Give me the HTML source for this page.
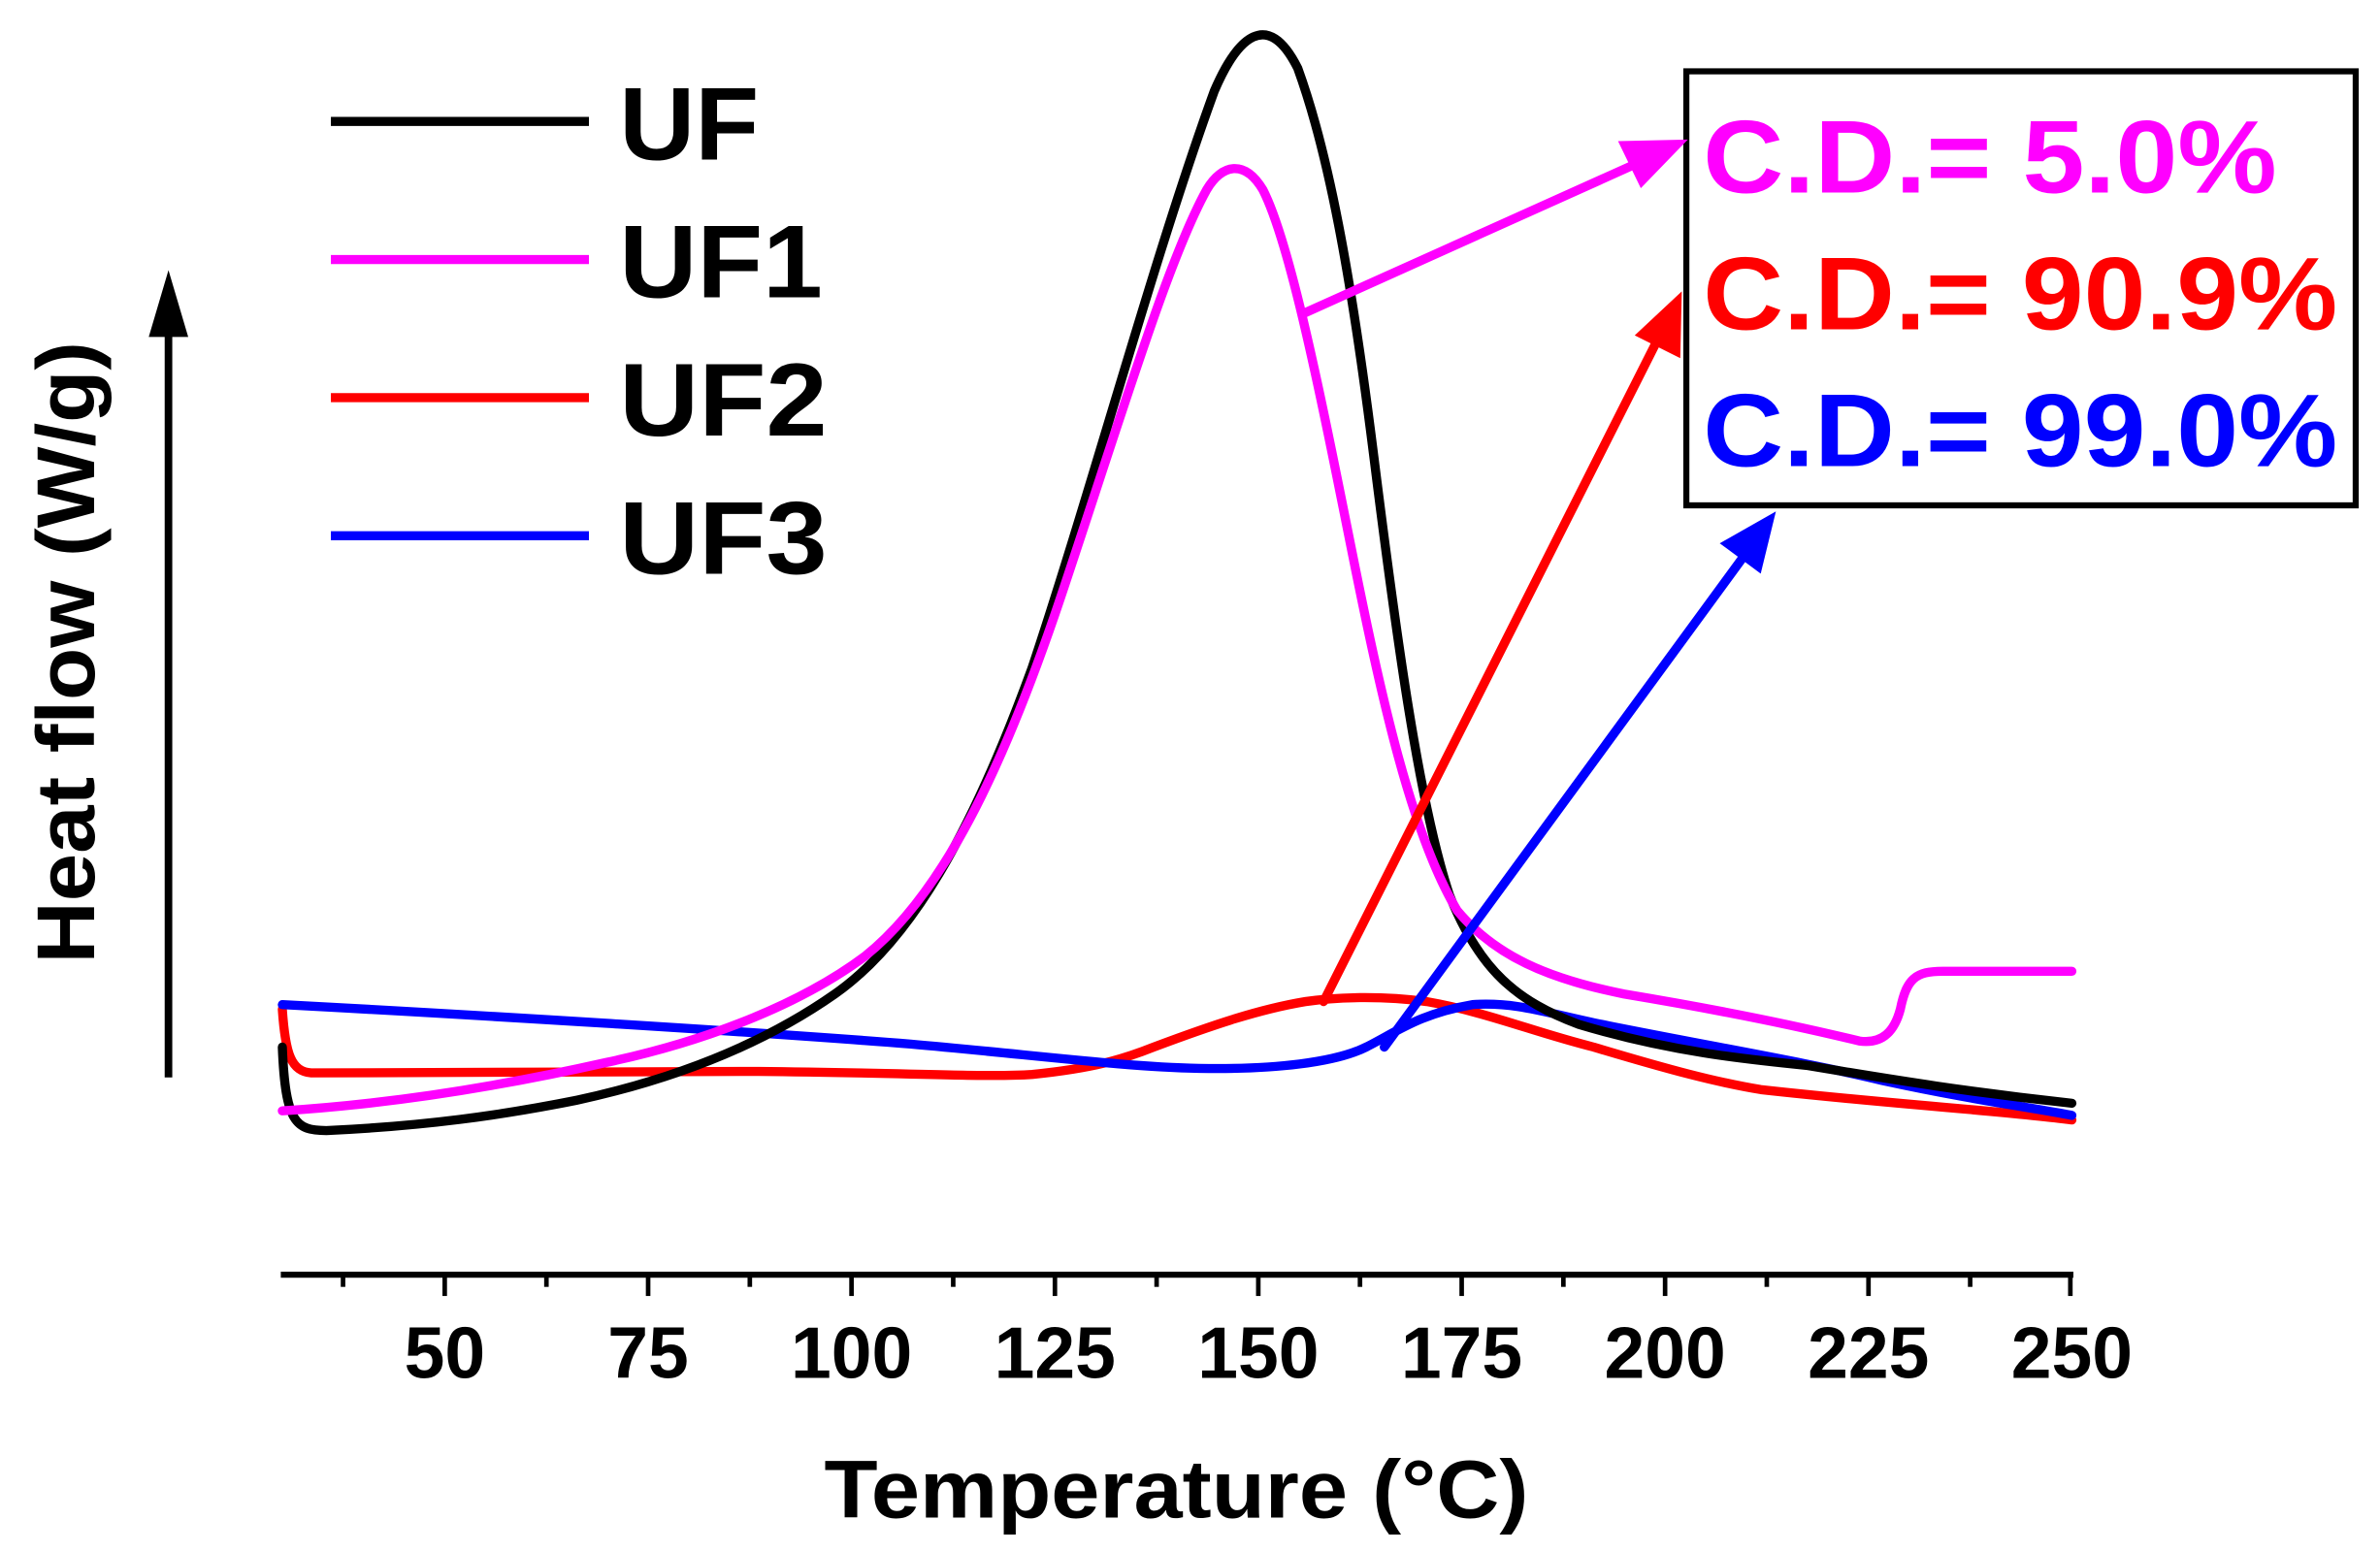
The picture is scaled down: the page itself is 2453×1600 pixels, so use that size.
<!DOCTYPE html>
<html><head><meta charset="utf-8"><style>
html,body{margin:0;padding:0;background:#fff;}
svg{display:block;}
text{font-family:"Liberation Sans",Arial,sans-serif;font-weight:bold;}
</style></head><body>
<svg width="2453" height="1600" viewBox="0 0 1568 1022.7" preserveAspectRatio="none" xmlns="http://www.w3.org/2000/svg">
<line x1="185" y1="840" x2="1366" y2="840" stroke="#000" stroke-width="4"/>
<g stroke="#000" stroke-width="3">
<line x1="293" y1="840" x2="293" y2="854"/><line x1="427" y1="840" x2="427" y2="854"/><line x1="561" y1="840" x2="561" y2="854"/><line x1="695" y1="840" x2="695" y2="854"/><line x1="829" y1="840" x2="829" y2="854"/><line x1="963" y1="840" x2="963" y2="854"/><line x1="1097" y1="840" x2="1097" y2="854"/><line x1="1231" y1="840" x2="1231" y2="854"/><line x1="1364" y1="840" x2="1364" y2="854"/>
<line x1="226" y1="840" x2="226" y2="848"/><line x1="360" y1="840" x2="360" y2="848"/><line x1="494" y1="840" x2="494" y2="848"/><line x1="628" y1="840" x2="628" y2="848"/><line x1="762" y1="840" x2="762" y2="848"/><line x1="896" y1="840" x2="896" y2="848"/><line x1="1030" y1="840" x2="1030" y2="848"/><line x1="1164" y1="840" x2="1164" y2="848"/><line x1="1298" y1="840" x2="1298" y2="848"/>
</g>
<g font-size="48" fill="#000" text-anchor="middle">
<text x="293" y="908">50</text><text x="427" y="908">75</text><text x="561" y="908">100</text><text x="695" y="908">125</text><text x="829" y="908">150</text><text x="963" y="908">175</text><text x="1097" y="908">200</text><text x="1231" y="908">225</text><text x="1365" y="908">250</text>
</g>
<text x="543" y="1000" font-size="54" textLength="464" lengthAdjust="spacingAndGlyphs">Temperature (°C)</text>
<line x1="111" y1="710" x2="111" y2="215" stroke="#000" stroke-width="5"/>
<path d="M111,178 L98,222 L124,222 Z" fill="#000"/>
<text transform="translate(62,635) rotate(-90)" font-size="54" textLength="410" lengthAdjust="spacingAndGlyphs">Heat flow (W/g)</text>
<g stroke-width="6">
<line x1="218" y1="80" x2="388" y2="80" stroke="#000"/>
<line x1="218" y1="171" x2="388" y2="171" stroke="#ff00ff"/>
<line x1="218" y1="262" x2="388" y2="262" stroke="#ff0000"/>
<line x1="218" y1="353" x2="388" y2="353" stroke="#0000ff"/>
</g>
<g font-size="68" fill="#000">
<text x="408" y="105" textLength="92" lengthAdjust="spacingAndGlyphs">UF</text><text x="408" y="196" textLength="134" lengthAdjust="spacingAndGlyphs">UF1</text><text x="408" y="287" textLength="137" lengthAdjust="spacingAndGlyphs">UF2</text><text x="408" y="378" textLength="137" lengthAdjust="spacingAndGlyphs">UF3</text>
</g>
<rect x="1111" y="47" width="441" height="286" fill="#fff" stroke="#000" stroke-width="4"/>
<g font-size="68">
<text x="1122" y="127" fill="#ff00ff" textLength="378" lengthAdjust="spacingAndGlyphs">C.D.= 5.0%</text>
<text x="1122" y="217" fill="#ff0000" textLength="418" lengthAdjust="spacingAndGlyphs">C.D.= 90.9%</text>
<text x="1122" y="307" fill="#0000ff" textLength="418" lengthAdjust="spacingAndGlyphs">C.D.= 99.0%</text>
</g>
<g fill="none" stroke-width="6" stroke-linejoin="round" stroke-linecap="round">
<path stroke="#ff0000" d="M186,665 C188,695 192,706 205,707 L500,706 C600,707 650,710 680,708 C720,704 740,698 760,690 C800,675 830,665 860,660 C880,657 910,656 940,660 C980,667 1010,680 1050,690 C1100,705 1130,713 1160,718 C1250,728 1320,732 1365,738"/>
<path stroke="#0000ff" d="M186,662 C300,668 500,680 600,688 C680,695 740,703 790,704 C840,705 880,700 900,690 C920,680 935,668 970,662 C1000,660 1020,668 1060,676 C1130,690 1190,700 1240,712 C1300,725 1340,730 1365,735"/>
<path stroke="#000" d="M186,690 C188,740 195,745 215,745 C280,742 330,735 380,725 C440,712 500,690 550,655 C600,620 640,550 680,440 C720,320 760,170 800,60 C815,25 835,5 855,45 C875,100 890,180 905,300 C920,420 935,530 955,590 C975,640 1000,660 1040,675 C1100,693 1150,698 1190,702 C1250,712 1300,720 1365,727"/>
<path stroke="#ff00ff" d="M186,732 C250,728 320,718 400,700 C470,685 530,660 570,630 C620,590 660,510 700,390 C740,270 770,170 795,125 C805,108 820,105 832,125 C850,160 870,260 890,360 C910,460 930,550 960,600 C985,630 1020,645 1070,655 C1130,665 1180,675 1225,686 C1240,688 1248,680 1252,665 C1256,645 1262,640 1280,640 L1365,640"/>
<line x1="860" y1="206" x2="1080" y2="107" stroke="#ff00ff"/>
<line x1="872" y1="660" x2="1093" y2="222" stroke="#ff0000"/>
<line x1="912" y1="690" x2="1150" y2="365" stroke="#0000ff"/>
</g>
<path d="M1112,92 L1066,93 L1081,124 Z" fill="#ff00ff"/>
<path d="M1108,192 L1077,221 L1107,236 Z" fill="#ff0000"/>
<path d="M1170,337 L1133,358 L1160,378 Z" fill="#0000ff"/>
</svg>
</body></html>
